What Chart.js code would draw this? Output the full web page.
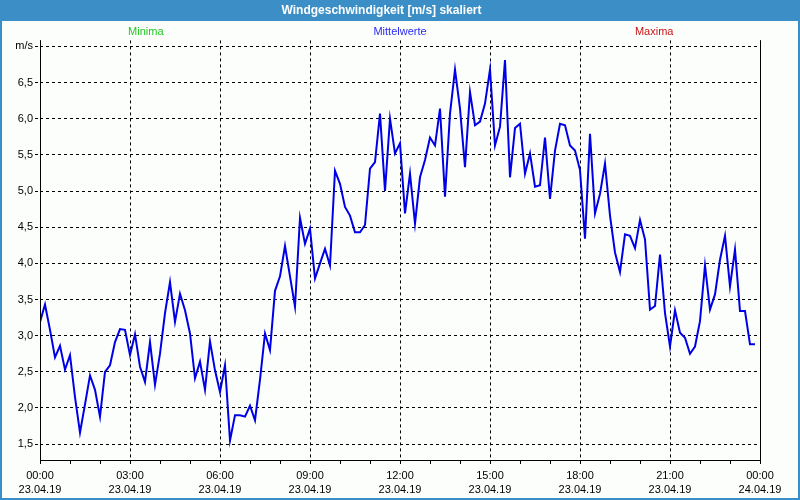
<!DOCTYPE html>
<html>
<head>
<meta charset="utf-8">
<script src="https://cdn.jsdelivr.net/npm/chart.js@4.4.0/dist/chart.umd.min.js"></script>
<style>
html, body { margin: 0; padding: 0; background: #3c8fc6; }
#wrap { width: 800px; height: 500px; }
</style>
</head>
<body>
<div id="wrap"><canvas id="wind" width="800" height="500"></canvas></div>
<script>
// 10-minute mean wind speed, 23.04.19 00:00 .. 23:50
const stepMinutes = 10;
const windSpeed = [
    3.19, 3.43, 3.08, 2.70, 2.86, 2.53, 2.73, 2.15, 1.66, 2.05, 2.45, 2.25,
    1.88, 2.50, 2.59, 2.91, 3.09, 3.08, 2.73, 3.02, 2.57, 2.36, 2.91, 2.32,
    2.75, 3.31, 3.74, 3.19, 3.58, 3.35, 3.03, 2.41, 2.64, 2.25, 2.92, 2.52,
    2.22, 2.59, 1.55, 1.90, 1.90, 1.88, 2.03, 1.83, 2.39, 3.03, 2.80, 3.62,
    3.82, 4.24, 3.82, 3.40, 4.63, 4.27, 4.48, 3.79, 4.00, 4.20, 3.97, 5.28,
    5.10, 4.78, 4.66, 4.43, 4.43, 4.53, 5.31, 5.40, 6.07, 5.00, 6.00, 5.52,
    5.66, 4.69, 5.24, 4.55, 5.19, 5.43, 5.74, 5.63, 6.14, 4.92, 6.07, 6.68,
    6.14, 5.33, 6.37, 5.91, 5.96, 6.21, 6.68, 5.63, 5.89, 6.81, 5.19, 5.87,
    5.93, 5.24, 5.52, 5.06, 5.08, 5.74, 4.89, 5.56, 5.93, 5.91, 5.63, 5.56,
    5.29, 4.34, 5.79, 4.69, 4.96, 5.38, 4.66, 4.15, 3.88, 4.40, 4.38, 4.21,
    4.60, 4.33, 3.36, 3.41, 4.12, 3.31, 2.85, 3.35, 3.04, 2.97, 2.75, 2.85,
    3.20, 3.97, 3.36, 3.57, 4.05, 4.38, 3.68, 4.19, 3.34, 3.34, 2.88, 2.88
];
const timeLabels = ['00:00', '03:00', '06:00', '09:00', '12:00', '15:00', '18:00', '21:00', '00:00'];
const dateLabels = ['23.04.19', '23.04.19', '23.04.19', '23.04.19', '23.04.19', '23.04.19', '23.04.19', '23.04.19', '24.04.19'];
const yTicks = [1.5, 2.0, 2.5, 3.0, 3.5, 4.0, 4.5, 5.0, 5.5, 6.0, 6.5, 7.0];
const yTickLabels = ['1,5', '2,0', '2,5', '3,0', '3,5', '4,0', '4,5', '5,0', '5,5', '6,0', '6,5', 'm/s'];
const legendNames = ['Minima', 'Mittelwerte', 'Maxima'];
const legendColors = ['#22c822', '#2a2af0', '#c81616'];

const font = 'Liberation Sans';
const hourTicks = [];
for (let h = 0; h <= 24; h++) hourTicks.push({value: h * 60});

// window frame + plot frame + series names
const framePlugin = {
    id: 'frame',
    beforeDraw(chart) {
        const c = chart.ctx;
        c.save();
        c.fillStyle = '#3c8fc6';
        c.fillRect(0, 0, chart.width, chart.height);
        c.fillStyle = '#fcfefc';
        c.fillRect(2, 21, chart.width - 4, chart.height - 23);
        c.restore();
    },
    afterDraw(chart) {
        const a = chart.chartArea;
        const c = chart.ctx;
        c.save();
        c.strokeStyle = '#000';
        c.lineWidth = 1;
        c.beginPath();
        c.moveTo(Math.round(a.left) + 0.5, a.top);
        c.lineTo(Math.round(a.left) + 0.5, Math.round(a.bottom) + 0.5);
        c.lineTo(Math.round(a.right) + 0.5, Math.round(a.bottom) + 0.5);
        c.lineTo(Math.round(a.right) + 0.5, a.top);
        c.stroke();
        c.font = '11px "' + font + '"';
        c.textAlign = 'center';
        c.textBaseline = 'middle';
        const w = a.right - a.left;
        const xs = [a.left + w * 0.147, a.left + w / 2, a.right - w * 0.147];
        legendNames.forEach((name, i) => {
            c.fillStyle = legendColors[i];
            c.fillText(name, xs[i], a.top - 8);
        });
        c.restore();
    }
};

new Chart(document.getElementById('wind'), {
    type: 'line',
    data: {
        datasets: [{
            label: 'Mittelwerte',
            data: windSpeed.map((v, i) => ({x: i * stepMinutes, y: v})),
            borderColor: 'rgb(0, 0, 230)',
            borderWidth: 2,
            pointRadius: 0,
            tension: 0,
            fill: false
        }]
    },
    options: {
        responsive: false,
        animation: false,
        layout: {
            padding: {left: 3, right: 40, top: 0, bottom: 3}
        },
        plugins: {
            legend: {display: false},
            tooltip: {enabled: false},
            title: {
                display: true,
                text: 'Windgeschwindigkeit [m/s] skaliert',
                color: '#ffffff',
                font: {family: font, size: 12, weight: 'bold'},
                padding: {top: 3, bottom: 23}
            }
        },
        scales: {
            x: {
                type: 'linear',
                min: 0,
                max: 1440,
                afterBuildTicks: (axis) => { axis.ticks = hourTicks.slice(); },
                afterFit: (axis) => { axis.height = 37; },
                grid: {
                    color: (ctx) => (ctx.tick && ctx.tick.value % 180 === 0) ? '#000' : 'rgba(0,0,0,0)',
                    tickColor: '#000',
                    tickLength: 4,
                    lineWidth: 1
                },
                border: {display: false, dash: [3, 3]},
                ticks: {
                    autoSkip: false,
                    maxRotation: 0,
                    padding: 5,
                    color: '#000',
                    font: {family: font, size: 11, lineHeight: 1.25},
                    callback: (value) => value % 180 === 0 ? [timeLabels[value / 180], dateLabels[value / 180]] : ''
                }
            },
            y: {
                min: 1.28,
                max: 7.083,
                afterBuildTicks: (axis) => { axis.ticks = yTicks.map(v => ({value: v})); },
                afterFit: (axis) => { axis.width = 37; },
                grid: {
                    color: '#000',
                    tickColor: '#000',
                    tickLength: 5,
                    tickBorderDash: [3, 3],
                    lineWidth: 1
                },
                border: {display: false, dash: [3, 3]},
                ticks: {
                    padding: 2,
                    color: '#000',
                    font: {family: font, size: 11},
                    callback: (value) => yTickLabels[yTicks.indexOf(value)]
                }
            }
        }
    },
    plugins: [framePlugin]
});
</script>
</body>
</html>
